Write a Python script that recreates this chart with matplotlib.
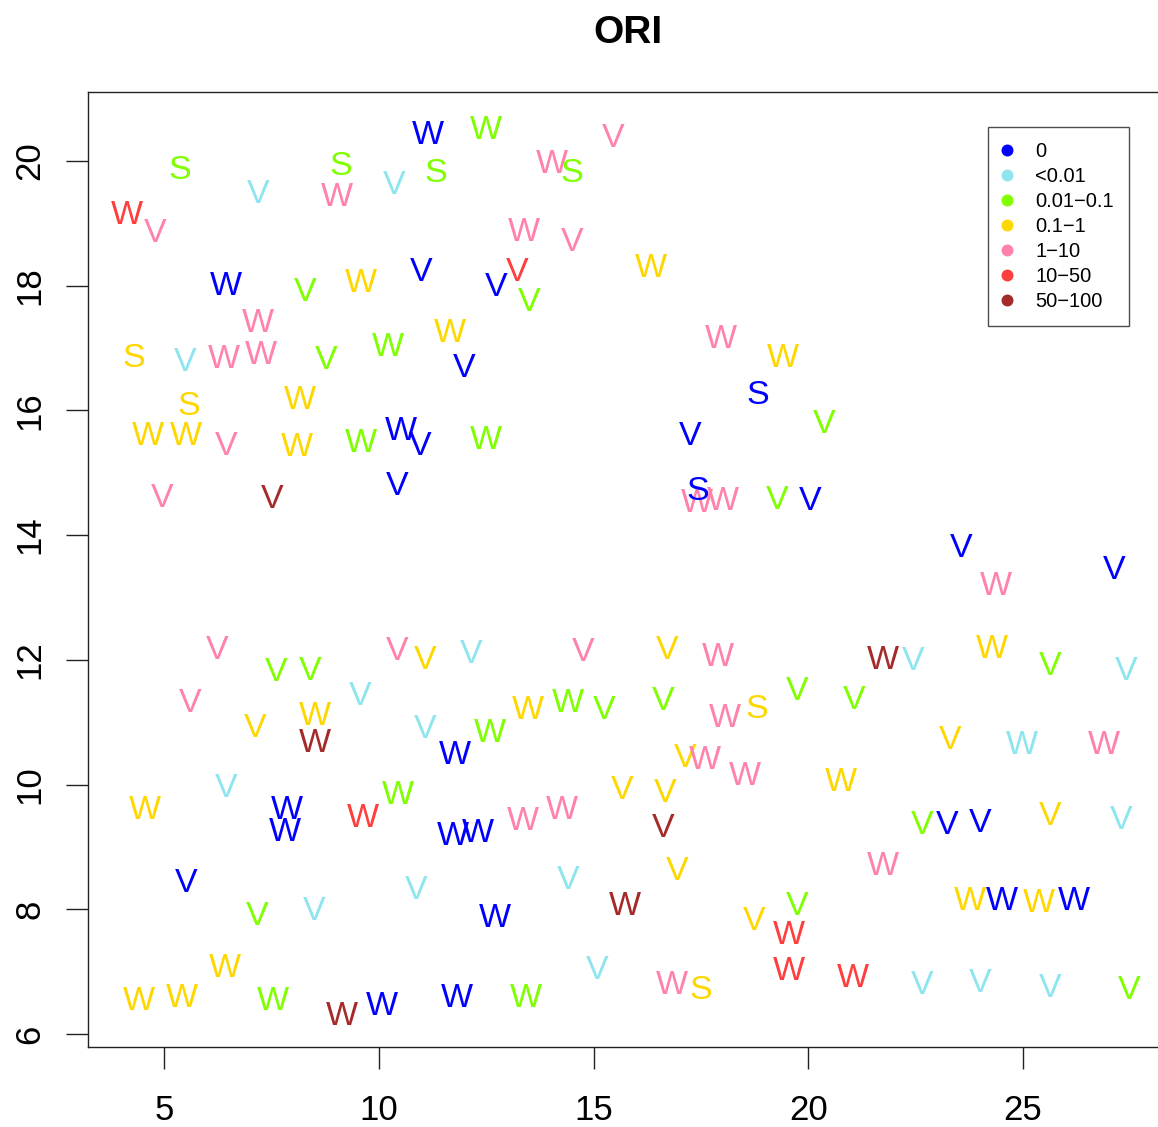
import matplotlib
matplotlib.use("Agg")
import matplotlib.pyplot as plt
from matplotlib.lines import Line2D

plt.rcParams['font.family'] = ['Liberation Sans', 'DejaVu Sans']

# ---- data ----
category_names = ["0", "<0.01", "0.01\u22120.1", "0.1\u22121", "1\u221210", "10\u221250", "50\u2212100"]
category_colors = ["#0000FF", "#8EE5EE", "#7FFF00", "#FFD700", "#FF82AB", "#FF3E3E", "#A52A2A"]

letters = [
    "W", "W", "V", "W", "S", "S", "S", "S", "V", "W",
    "V", "W", "V", "W", "V", "V", "W", "V", "W", "V",
    "V", "V", "W", "W", "S", "V", "W", "W", "V", "W",
    "W", "V", "W", "W", "S", "S", "W", "V", "W", "W",
    "V", "W", "W", "W", "V", "W", "V", "V", "V", "V",
    "S", "W", "W", "V", "V", "V", "W", "V", "V", "V",
    "V", "V", "V", "V", "W", "W", "V", "W", "V", "V",
    "V", "V", "V", "V", "V", "W", "W", "V", "W", "W",
    "W", "W", "V", "V", "W", "S", "V", "V", "V", "W",
    "W", "V", "W", "W", "W", "V", "W", "W", "W", "W",
    "W", "W", "W", "W", "W", "V", "V", "V", "V", "W",
    "V", "V", "V", "V", "V", "V", "V", "V", "W", "V",
    "V", "W", "V", "V", "W", "W", "W", "W", "W", "W",
    "W", "W", "V", "W", "S", "V", "V", "V", "V", "W",
    "W", "W", "W", "W", "W", "W",
]
x_values = [
    11.14, 12.49, 15.45, 14.03, 14.49, 5.36, 9.11, 11.33, 7.18, 9.02,
    10.35, 4.13, 4.78, 13.38, 14.49, 13.21, 6.43, 8.27, 9.58, 10.98,
    12.72, 13.49, 16.33, 7.18, 4.29, 5.48, 6.39, 7.25, 8.76, 10.21,
    11.65, 11.98, 17.96, 19.41, 18.83, 5.57, 8.16, 20.36, 4.62, 5.50,
    6.43, 8.09, 9.58, 10.51, 10.95, 12.49, 17.24, 4.94, 7.50, 10.42,
    17.43, 17.41, 18.01, 19.27, 20.04, 23.56, 24.37, 27.12, 6.22, 10.42,
    11.07, 12.14, 14.75, 16.71, 17.89, 21.74, 22.44, 24.28, 25.63, 27.40,
    7.60, 8.39, 5.59, 9.55, 7.11, 8.51, 8.51, 11.07, 11.77, 12.58,
    13.47, 14.40, 15.24, 16.61, 18.06, 18.80, 19.74, 21.06, 23.30, 24.98,
    26.89, 17.13, 17.59, 18.52, 20.76, 6.43, 4.55, 7.85, 7.81, 9.62,
    10.44, 11.72, 12.30, 13.35, 14.26, 15.66, 16.66, 16.61, 16.94, 21.74,
    22.65, 23.23, 24.00, 25.63, 27.28, 5.50, 10.86, 14.40, 15.73, 7.15,
    8.48, 12.70, 18.73, 19.74, 19.55, 19.55, 21.04, 23.77, 24.51, 25.37,
    26.19, 6.41, 15.08, 16.82, 17.50, 22.65, 24.00, 25.63, 27.47, 4.41,
    5.41, 7.53, 9.14, 10.07, 11.81, 13.42,
]
y_values = [
    20.46, 20.54, 20.42, 20.00, 19.86, 19.90, 19.97, 19.86, 19.52, 19.47,
    19.66, 19.18, 18.89, 18.91, 18.75, 18.27, 18.04, 17.95, 18.09, 18.27,
    18.03, 17.79, 18.33, 17.45, 16.89, 16.82, 16.87, 16.94, 16.86, 17.06,
    17.29, 16.73, 17.19, 16.89, 16.30, 16.12, 16.22, 15.83, 15.64, 15.64,
    15.48, 15.46, 15.53, 15.72, 15.48, 15.57, 15.64, 14.64, 14.63, 14.84,
    14.76, 14.56, 14.60, 14.61, 14.60, 13.84, 13.23, 13.49, 12.21, 12.19,
    12.05, 12.14, 12.17, 12.21, 12.09, 12.05, 12.03, 12.22, 11.95, 11.87,
    11.85, 11.87, 11.36, 11.47, 10.96, 11.15, 10.71, 10.94, 10.52, 10.87,
    11.24, 11.36, 11.24, 11.39, 11.12, 11.26, 11.55, 11.40, 10.76, 10.68,
    10.68, 10.47, 10.44, 10.19, 10.09, 9.99, 9.64, 9.64, 9.29, 9.51,
    9.88, 9.22, 9.27, 9.46, 9.64, 9.96, 9.91, 9.35, 8.66, 8.74,
    9.40, 9.40, 9.43, 9.54, 9.48, 8.47, 8.36, 8.52, 8.10, 7.94,
    8.02, 7.91, 7.86, 8.10, 7.64, 7.06, 6.95, 8.18, 8.18, 8.15,
    8.18, 7.11, 7.07, 6.83, 6.75, 6.83, 6.87, 6.79, 6.75, 6.58,
    6.63, 6.58, 6.34, 6.50, 6.63, 6.63,
]
categories = [
    0, 2, 4, 4, 2, 2, 2, 2, 1, 4,
    1, 5, 4, 4, 4, 5, 0, 2, 3, 0,
    0, 2, 3, 4, 3, 1, 4, 4, 2, 2,
    3, 0, 4, 3, 0, 3, 3, 2, 3, 3,
    4, 3, 2, 0, 0, 2, 0, 4, 6, 0,
    0, 4, 4, 2, 0, 0, 4, 0, 4, 4,
    3, 1, 4, 3, 4, 6, 1, 3, 2, 1,
    2, 2, 4, 1, 3, 3, 6, 1, 0, 2,
    3, 2, 2, 2, 4, 3, 2, 2, 3, 1,
    4, 3, 4, 4, 3, 1, 3, 0, 0, 5,
    2, 0, 0, 4, 4, 3, 3, 6, 3, 4,
    2, 0, 0, 3, 1, 0, 1, 1, 6, 2,
    1, 0, 3, 2, 5, 5, 5, 3, 0, 3,
    0, 3, 1, 4, 3, 1, 1, 1, 2, 3,
    3, 2, 6, 0, 0, 2,
]
x_ticks = [5, 10, 15, 20, 25]
y_ticks = [6, 8, 10, 12, 14, 16, 18, 20]

# ---- figure ----
W, H = 1158, 1127
fig = plt.figure(figsize=(W / 100, H / 100), dpi=100)
left, right, top, bottom = 88, 1168, 92, 1047
ax = fig.add_axes([left / W, (H - bottom) / H, (right - left) / W, (bottom - top) / H])
ax.set_xlim(3.218, 28.378)
ax.set_ylim(5.792, 21.106)

for lab, xv, yv, c in zip(letters, x_values, y_values, categories):
    ax.text(xv, yv, lab, color=category_colors[c], ha="center", va="center_baseline",
            fontsize=24.5, zorder=3 if lab == "S" else 2)

ax.set_xticks(x_ticks)
ax.set_yticks(y_ticks)
ax.set_xticklabels([str(t) for t in x_ticks])
ax.set_yticklabels([str(t) for t in y_ticks], rotation=90, va="center")
ax.tick_params(axis="both", length=15.8, width=1.0, labelsize=25, color="#222222")
ax.tick_params(axis="x", pad=18)
ax.tick_params(axis="y", pad=14)
for sp in ax.spines.values():
    sp.set_linewidth(1.0)
    sp.set_color("#222222")

ax.set_title("ORI", fontsize=28, fontweight="bold", pad=35)

handles = [Line2D([], [], ls="", marker="o", markersize=8.6, color=c, markeredgewidth=0)
           for c in category_colors]
leg = ax.legend(handles, category_names, loc="upper left",
                bbox_to_anchor=(988 / W, (H - 127) / H), bbox_transform=fig.transFigure,
                borderaxespad=0, fontsize=14.5, frameon=True, fancybox=False,
                borderpad=0.75, handlelength=0.4, handletextpad=1.2, labelspacing=0.3)
leg.get_frame().set_edgecolor("#222222")
leg.get_frame().set_linewidth(1.0)

fig.savefig("out.png", dpi=100)
